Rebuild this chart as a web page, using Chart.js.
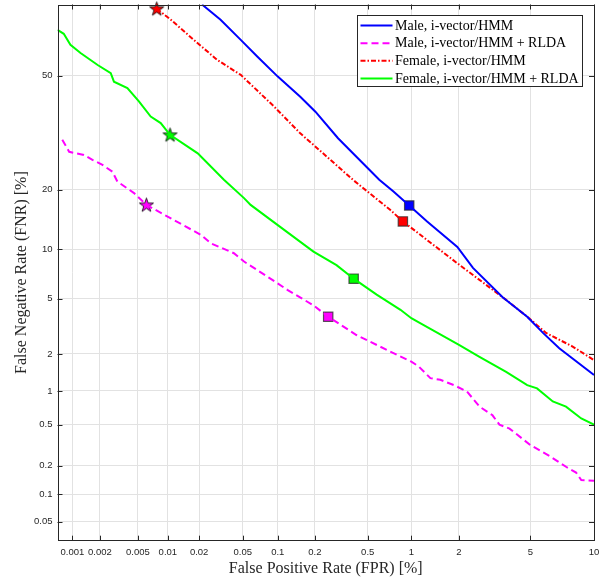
<!DOCTYPE html>
<html>
<head>
<meta charset="utf-8">
<script src="https://cdn.jsdelivr.net/npm/chart.js@4.4.1/dist/chart.umd.min.js"></script>
<style>
html, body { margin: 0; padding: 0; background: #fff; }
</style>
</head>
<body>
<canvas id="det" width="609" height="580"></canvas>
<script>
// DET curves, values in percent
const seriesNames = ['Male, i-vector/HMM', 'Male, i-vector/HMM + RLDA', 'Female, i-vector/HMM', 'Female, i-vector/HMM + RLDA'];

const maleFpr = [0.0213, 0.0316, 0.048, 0.0669, 0.1, 0.153, 0.202, 0.302, 0.604, 0.758, 0.968, 1.267, 1.955, 2.42, 3.56, 4.81, 5.80, 6.94, 10];
const maleFnr = [70.0, 66.0, 60.4, 55.6, 49.7, 43.8, 39.5, 32.2, 22.1, 19.6, 16.9, 14.1, 10.3, 7.8, 5.1, 3.76, 2.87, 2.21, 1.36];

const maleRldaFpr = [0.00077, 0.00092, 0.00134, 0.00166, 0.00213, 0.00272, 0.00307, 0.00457, 0.00611, 0.0115, 0.0208, 0.0257, 0.0417, 0.0513, 0.0816, 0.12, 0.195, 0.254, 0.414, 0.80, 1.0, 1.12, 1.33, 1.536, 1.86, 2.23, 2.64, 3.13, 3.42, 3.88, 5.0, 6.23, 7.47, 8.32, 8.78, 10];
const maleRldaFnr = [31.8, 28.7, 27.9, 26.7, 25.5, 23.9, 21.7, 19.3, 17.0, 14.3, 12.0, 10.8, 9.5, 8.5, 6.9, 5.7, 4.5, 3.76, 2.78, 1.97, 1.74, 1.59, 1.28, 1.24, 1.12, 0.99, 0.73, 0.61, 0.50, 0.46, 0.32, 0.25, 0.195, 0.17, 0.142, 0.14];

const femaleFpr = [0.00776, 0.0107, 0.0194, 0.0295, 0.048, 0.0929, 0.153, 0.302, 0.390, 0.719, 0.878, 1.955, 3.72, 4.81, 6.01, 8.02, 10];
const femaleFnr = [68.9, 66.0, 59.4, 54.6, 50.2, 41.0, 33.5, 25.1, 22.1, 16.1, 14.1, 8.3, 4.9, 3.76, 2.87, 2.28, 1.79];

const femaleRldaFpr = [0.00068, 0.0008, 0.00095, 0.00123, 0.00189, 0.00261, 0.00282, 0.0039, 0.00515, 0.00675, 0.0085, 0.0105, 0.0194, 0.0339, 0.0513, 0.0586, 0.1, 0.195, 0.294, 0.395, 0.579, 0.846, 1.0, 1.15, 2.0, 2.64, 3.72, 4.81, 5.40, 6.46, 7.47, 8.78, 10];
const femaleRldaFnr = [63.2, 62.1, 59.0, 56.6, 53.1, 50.7, 48.2, 46.3, 42.4, 38.1, 36.3, 33.1, 28.3, 22.1, 18.3, 17.0, 13.5, 9.7, 8.1, 6.7, 5.3, 4.2, 3.67, 3.38, 2.35, 1.90, 1.44, 1.12, 1.05, 0.81, 0.73, 0.57, 0.50];

// operating points, same order as seriesNames (null = off the plot)
const starFpr = [null, 0.00611, 0.00776, 0.0105];
const starFnr = [null, 17.0, 68.9, 33.1];
const squareFpr = [0.968, 0.254, 0.878, 0.395];
const squareFnr = [16.9, 3.76, 14.1, 6.7];

// axis ticks (percent)
const xTickVals = [0.001, 0.002, 0.005, 0.01, 0.02, 0.05, 0.1, 0.2, 0.5, 1, 2, 5, 10];
const yTickVals = [0.05, 0.1, 0.2, 0.5, 1, 2, 5, 10, 20, 50];
const xRange = [0.00068, 10];
const yRange = [0.03, 70];

const colors = ['#0000ff', '#ff00ff', '#ff0000', '#00ff00'];
const dashes = [[], [7, 4], [5, 2, 1.5, 2], []];

// inverse normal CDF (Acklam)
function probit(p) {
    const a = [-3.969683028665376e+01, 2.209460984245205e+02, -2.759285104469687e+02, 1.383577518672690e+02, -3.066479806614716e+01, 2.506628277459239e+00];
    const b = [-5.447609879822406e+01, 1.615858368580409e+02, -1.556989798598866e+02, 6.680131188771972e+01, -1.328068155288572e+01];
    const c = [-7.784894002430293e-03, -3.223964580411365e-01, -2.400758277161838e+00, -2.549732539343734e+00, 4.374664141464968e+00, 2.938163982698783e+00];
    const d = [7.784695709041462e-03, 3.224671290700398e-01, 2.445134137142996e+00, 3.754408661907416e+00];
    const pl = 0.02425;
    if (p < pl) {
        const q = Math.sqrt(-2 * Math.log(p));
        return (((((c[0]*q+c[1])*q+c[2])*q+c[3])*q+c[4])*q+c[5]) / ((((d[0]*q+d[1])*q+d[2])*q+d[3])*q+1);
    }
    if (p > 1 - pl) {
        const q = Math.sqrt(-2 * Math.log(1 - p));
        return -(((((c[0]*q+c[1])*q+c[2])*q+c[3])*q+c[4])*q+c[5]) / ((((d[0]*q+d[1])*q+d[2])*q+d[3])*q+1);
    }
    const q = p - 0.5, r = q * q;
    return (((((a[0]*r+a[1])*r+a[2])*r+a[3])*r+a[4])*r+a[5])*q / (((((b[0]*r+b[1])*r+b[2])*r+b[3])*r+b[4])*r+1);
}

// percent -> normal deviate
const dev = v => probit(v / 100);

function toPoints(fpr, fnr) {
    return fpr.map((v, i) => ({ x: dev(v), y: dev(fnr[i]) }));
}

// filled pentagram for the star markers
function makeStar(color) {
    const c = document.createElement('canvas');
    c.width = 17; c.height = 17;
    const g = c.getContext('2d');
    g.beginPath();
    for (let i = 0; i < 10; i++) {
        const r = i % 2 ? 2.9 : 7.4;
        const ang = -Math.PI / 2 + i * Math.PI / 5;
        g.lineTo(8.5 + r * Math.cos(ang), 9 + r * Math.sin(ang));
    }
    g.closePath();
    g.fillStyle = color;
    g.fill();
    g.strokeStyle = '#000';
    g.lineWidth = 0.8;
    g.stroke();
    return c;
}

const curves = [
    [maleFpr, maleFnr],
    [maleRldaFpr, maleRldaFnr],
    [femaleFpr, femaleFnr],
    [femaleRldaFpr, femaleRldaFnr]
];

const datasets = curves.map((cv, i) => ({
    label: seriesNames[i],
    data: toPoints(cv[0], cv[1]),
    showLine: true,
    borderColor: colors[i],
    borderWidth: 2,
    borderDash: dashes[i],
    pointRadius: 0,
    tension: 0,
    fill: false
}));

// square markers
seriesNames.forEach((name, i) => {
    datasets.push({
        label: name + ' (square)',
        data: [{ x: dev(squareFpr[i]), y: dev(squareFnr[i]) }],
        showLine: false,
        pointStyle: 'rect',
        pointRadius: 6.6,
        backgroundColor: colors[i],
        borderColor: 'rgba(40,40,40,0.75)',
        borderWidth: 1.2,
        clip: false
    });
});

// star markers
seriesNames.forEach((name, i) => {
    if (starFpr[i] === null) return;
    datasets.push({
        label: name + ' (star)',
        data: [{ x: dev(starFpr[i]), y: dev(starFnr[i]) }],
        showLine: false,
        pointStyle: makeStar(colors[i]),
        pointRadius: 7,
        clip: false
    });
});

// MATLAB-like box with inward ticks on all four sides
const axesBox = {
    id: 'axesBox',
    afterDatasetsDraw(chart) {
        const { ctx, chartArea: a, scales: { x, y } } = chart;
        ctx.save();
        ctx.strokeStyle = '#262626';
        ctx.lineWidth = 1;
        ctx.beginPath();
        x.ticks.forEach(t => {
            const px = Math.round(x.getPixelForValue(t.value)) + 0.5;
            ctx.moveTo(px, a.bottom); ctx.lineTo(px, a.bottom - 5);
            ctx.moveTo(px, a.top); ctx.lineTo(px, a.top + 5);
        });
        y.ticks.forEach(t => {
            const py = Math.round(y.getPixelForValue(t.value)) + 0.5;
            ctx.moveTo(a.left, py); ctx.lineTo(a.left + 5, py);
            ctx.moveTo(a.right, py); ctx.lineTo(a.right - 5, py);
        });
        ctx.stroke();
        ctx.strokeRect(Math.round(a.left) + 0.5, Math.round(a.top) + 0.5, Math.round(a.width) - 1, Math.round(a.height) - 1);
        ctx.restore();
    }
};

// legend box inside the axes, top right
const boxLegend = {
    id: 'boxLegend',
    afterDraw(chart) {
        const { ctx, chartArea: a } = chart;
        const x0 = Math.round(a.right - 236.7) + 0.5, y0 = 15.5, w = 225, h = 71;
        ctx.save();
        ctx.fillStyle = '#fff';
        ctx.fillRect(x0, y0, w, h);
        ctx.strokeStyle = '#262626';
        ctx.lineWidth = 1;
        ctx.strokeRect(x0, y0, w, h);
        ctx.font = '14px "Liberation Serif"';
        ctx.textBaseline = 'middle';
        ctx.textAlign = 'left';
        seriesNames.forEach((name, i) => {
            const yy = y0 + 10 + i * 17.67;
            ctx.beginPath();
            ctx.setLineDash(dashes[i]);
            ctx.strokeStyle = colors[i];
            ctx.lineWidth = 2;
            ctx.moveTo(x0 + 3, yy);
            ctx.lineTo(x0 + 35, yy);
            ctx.stroke();
            ctx.setLineDash([]);
            ctx.fillStyle = '#000';
            ctx.fillText(name, x0 + 37.5, yy + 0.5);
        });
        ctx.restore();
    }
};

const tickFont = { family: '"Liberation Sans", Arial, sans-serif', size: 9.5 };
const titleFont = { family: '"Liberation Serif", "Times New Roman", serif', size: 16 };

new Chart(document.getElementById('det'), {
    type: 'scatter',
    data: { datasets: datasets },
    options: {
        responsive: false,
        animation: false,
        layout: { autoPadding: false, padding: { top: 4.5, right: 15, left: 0, bottom: 0 } },
        plugins: {
            legend: { display: false },
            tooltip: { enabled: false }
        },
        scales: {
            x: {
                type: 'linear',
                min: dev(xRange[0]),
                max: dev(xRange[1]),
                afterBuildTicks: scale => { scale.ticks = xTickVals.map(v => ({ value: dev(v) })); },
                afterFit: scale => {
                    scale.height = 39.3;
                    scale.paddingLeft = 0;
                    scale.paddingRight = 0;
                },
                ticks: {
                    callback: (val, i) => String(xTickVals[i]),
                    autoSkip: false,
                    maxRotation: 0,
                    padding: 6,
                    color: '#262626',
                    font: tickFont
                },
                grid: { color: '#e2e2e2', drawTicks: false },
                border: { display: false },
                title: {
                    display: true,
                    text: 'False Positive Rate (FPR) [%]',
                    color: '#262626',
                    font: titleFont,
                    padding: { top: 0, bottom: 2 }
                }
            },
            y: {
                type: 'linear',
                min: dev(yRange[0]),
                max: dev(yRange[1]),
                afterBuildTicks: scale => { scale.ticks = yTickVals.map(v => ({ value: dev(v) })); },
                afterFit: scale => {
                    scale.width = 57.5;
                    scale.paddingTop = 0;
                    scale.paddingBottom = 0;
                },
                ticks: {
                    callback: (val, i) => String(yTickVals[i]),
                    autoSkip: false,
                    padding: 5,
                    color: '#262626',
                    font: tickFont
                },
                grid: { color: '#e2e2e2', drawTicks: false },
                border: { display: false },
                title: {
                    display: true,
                    text: 'False Negative Rate (FNR) [%]',
                    color: '#262626',
                    font: titleFont,
                    padding: { top: 12, bottom: 0 }
                }
            }
        }
    },
    plugins: [axesBox, boxLegend]
});
</script>
</body>
</html>
